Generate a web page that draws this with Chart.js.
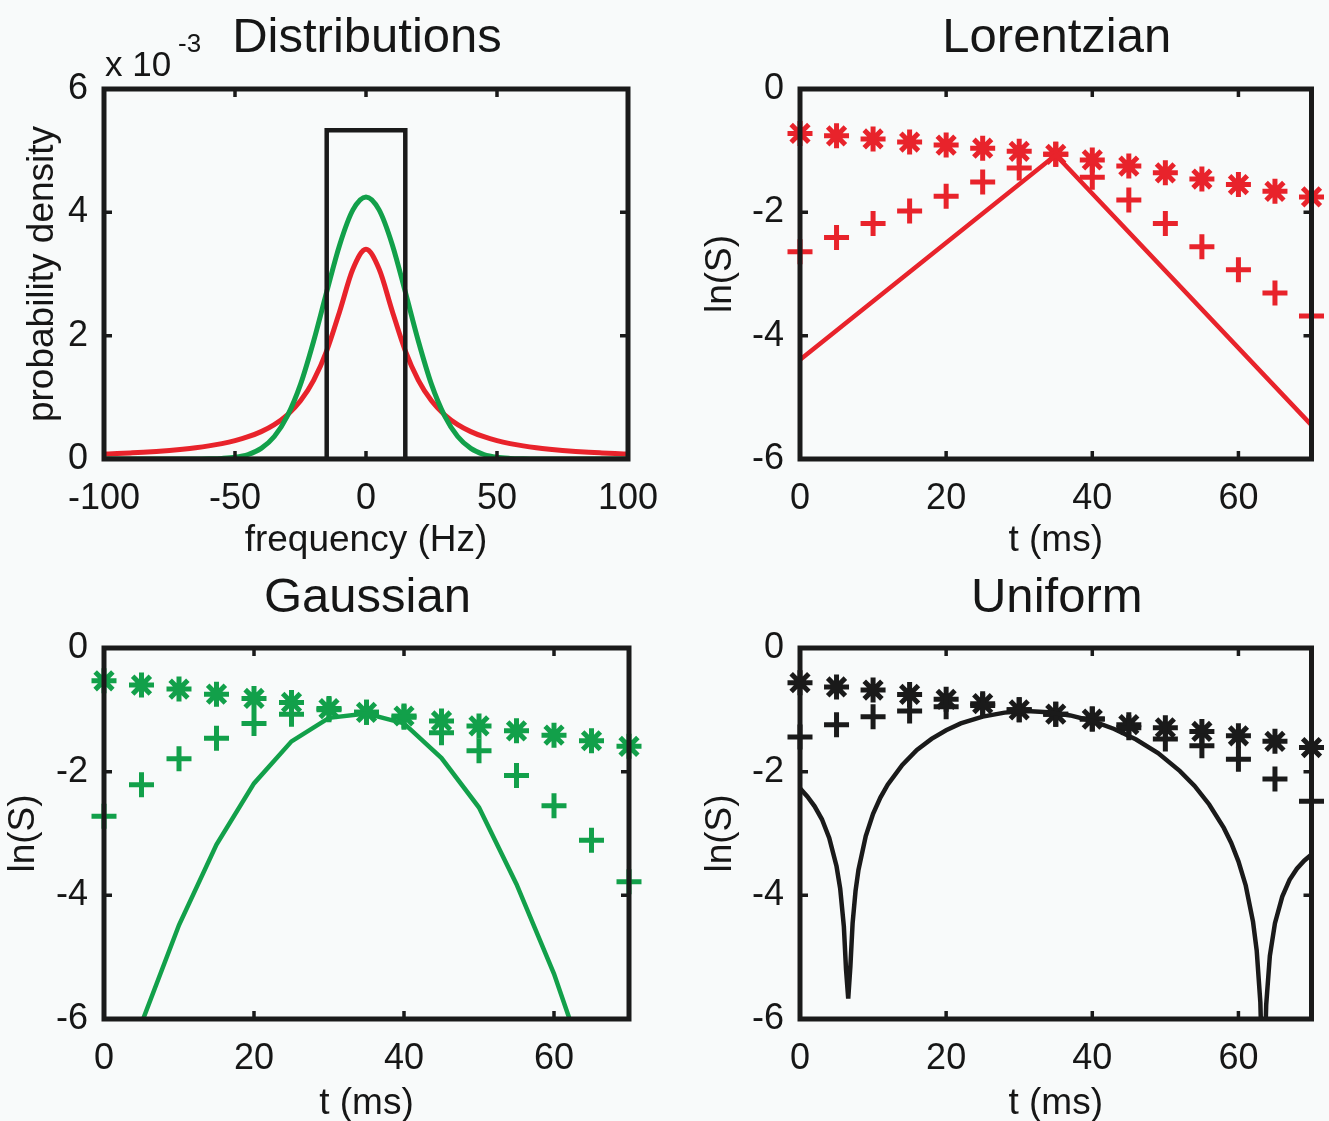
<!DOCTYPE html>
<html>
<head>
<meta charset="utf-8">
<title>Distributions and ln(S)</title>
<script src="https://cdn.jsdelivr.net/npm/chart.js@4.4.1/dist/chart.umd.min.js"></script>
<style>
  html, body { margin: 0; padding: 0; background: #f8fafa; }
  #wrap { position: relative; width: 1329px; height: 1121px; overflow: hidden; }
  #wrap canvas { position: absolute; left: 0; top: 0; }
</style>
</head>
<body>
<div id="wrap">
  <canvas id="c1" width="1329" height="1121"></canvas>
  <canvas id="c2" width="1329" height="1121"></canvas>
  <canvas id="c3" width="1329" height="1121"></canvas>
  <canvas id="c4" width="1329" height="1121"></canvas>
</div>
<script>
// --- Data ---

// Distributions panel, probability density in units of 1e-3
const freqHz = [-100, -95, -90, -85, -80, -75, -70, -65, -60, -55, -50, -45, -40, -35, -30, -25, -20, -15, -10, -5, 0,
                5, 10, 15, 20, 25, 30, 35, 40, 45, 50, 55, 60, 65, 70, 75, 80, 85, 90, 95, 100];
const lorentzDist = [0.080, 0.088, 0.098, 0.109, 0.123, 0.139, 0.159, 0.183, 0.213, 0.250, 0.298, 0.361, 0.444, 0.557, 0.716, 0.944, 1.276, 1.755, 2.40, 3.08, 3.40,
                     3.08, 2.40, 1.755, 1.276, 0.944, 0.716, 0.557, 0.444, 0.361, 0.298, 0.250, 0.213, 0.183, 0.159, 0.139, 0.123, 0.109, 0.098, 0.088, 0.080];
const gaussDist = [0, 0, 0, 0, 0, 0, 0, 0, 0.003, 0.010, 0.028, 0.073, 0.172, 0.365, 0.70, 1.21, 1.91, 2.71, 3.48, 4.04, 4.25,
                   4.04, 3.48, 2.71, 1.91, 1.21, 0.70, 0.365, 0.172, 0.073, 0.028, 0.010, 0.003, 0, 0, 0, 0, 0, 0, 0, 0];
const boxHz = [-100, -15, -15, 15, 15, 100];
const boxDist = [0, 0, 5.33, 5.33, 0, 0];

// Echo time samples (ms)
const tMs = [0, 5, 10, 15, 20, 25, 30, 35, 40, 45, 50, 55, 60, 65, 70];

// Lorentzian panel
const lorStar = [-0.72, -0.76, -0.81, -0.86, -0.91, -0.96, -1.01, -1.06, -1.15, -1.25, -1.36, -1.46, -1.55, -1.66, -1.75];
const lorPlus = [-2.64, -2.41, -2.18, -1.98, -1.74, -1.51, -1.28, -1.06, -1.43, -1.80, -2.18, -2.56, -2.93, -3.31, -3.68];
const lorLineMs = [0, 35, 70];
const lorLine = [-4.39, -1.07, -5.45];

// Gaussian panel
const gauStar = [-0.53, -0.60, -0.665, -0.746, -0.816, -0.88, -0.98, -1.04, -1.10, -1.18, -1.26, -1.34, -1.41, -1.50, -1.59];
const gauPlus = [-2.72, -2.21, -1.79, -1.46, -1.22, -1.07, -1.00, -1.04, -1.12, -1.37, -1.66, -2.06, -2.55, -3.11, -3.78];
const gauLine = [-7.98, -6.07, -4.48, -3.18, -2.19, -1.51, -1.13, -1.06, -1.22, -1.78, -2.58, -3.82, -5.27, -7.03, -9.09];

// Uniform panel
const uniStar = [-0.56, -0.63, -0.68, -0.75, -0.83, -0.90, -1.00, -1.07, -1.15, -1.24, -1.29, -1.35, -1.42, -1.51, -1.61];
const uniPlus = [-1.44, -1.24, -1.11, -1.02, -0.95, -0.93, -1.00, -1.07, -1.15, -1.29, -1.47, -1.58, -1.80, -2.12, -2.48];
const uniCurveMs = [0, 1, 2, 3, 4, 5, 5.5, 6, 6.3, 6.6, 6.9, 7.2, 7.6, 8, 9, 10, 11, 12, 14, 16, 18, 20, 22, 25, 28, 31, 34, 37,
                    40, 43, 46, 49, 52, 54, 56, 58, 59, 60, 61, 62, 62.5, 63, 63.4, 63.8, 64.3, 65, 66, 67, 68, 69, 70];
const uniCurve = [-2.27, -2.40, -2.56, -2.77, -3.07, -3.53, -3.89, -4.50, -5.20, -5.67, -5.14, -4.45, -3.93, -3.59, -3.04, -2.68,
                  -2.42, -2.21, -1.89, -1.65, -1.47, -1.33, -1.22, -1.11, -1.045, -1.02, -1.04, -1.09,
                  -1.18, -1.31, -1.48, -1.70, -1.99, -2.23, -2.53, -2.91, -3.15, -3.45, -3.84, -4.43, -4.89, -5.73, -7.5,
                  -5.77, -4.98, -4.45, -4.02, -3.75, -3.57, -3.44, -3.34];

// --- Styles ---
const W = 1329, H = 1121;
const FONT = '"Liberation Sans", Arial, Helvetica, sans-serif';
const INK = '#161616';
const RED = '#e8232b';
const GREEN = '#12a04a';
const BLACK = '#1a1a1a';
const TICK_SIZE = 36;
const LABEL_SIZE = 37;

Chart.defaults.font.family = FONT;
Chart.defaults.color = INK;

const pts = (xs, ys) => xs.map((x, i) => ({ x: x, y: ys[i] }));

function lineSet(xs, ys, color, extra) {
    return Object.assign({
        data: pts(xs, ys), showLine: true, borderColor: color, borderWidth: 4.5,
        pointRadius: 0, pointHoverRadius: 0, fill: false, clip: 2
    }, extra || {});
}

function markSet(xs, ys, color, style, r) {
    return {
        data: pts(xs, ys), showLine: false, pointStyle: style, pointRadius: r, pointHoverRadius: r,
        pointBorderWidth: 5, pointBorderColor: color, pointBackgroundColor: color, clip: false
    };
}

const panels = [
    {
        id: 'c1', L: 104, T: 89, R: 628, B: 459, yLabX: 43, xLabY: 541, titleY: 52,
        title: 'Distributions', xTitle: 'frequency (Hz)', yTitle: 'probability density',
        x: [-100, 100, 50], y: [0, 6, 2], exponent: true,
        datasets: [
            lineSet(boxHz, boxDist, BLACK, { borderWidth: 4.5 }),
            lineSet(freqHz, gaussDist, GREEN, { borderWidth: 5, cubicInterpolationMode: 'monotone' }),
            lineSet(freqHz, lorentzDist, RED, { borderWidth: 5, cubicInterpolationMode: 'monotone' })
        ]
    },
    {
        id: 'c2', L: 800, T: 89, R: 1322, B: 459, yLabX: 721, xLabY: 541, titleY: 52,
        title: 'Lorentzian', xTitle: 't (ms)', yTitle: 'ln(S)',
        x: [0, 70, 20], y: [-6, 0, 2],
        datasets: [
            lineSet(lorLineMs, lorLine, RED),
            markSet(tMs, lorPlus, RED, 'cross', 12.5),
            markSet(tMs, lorStar, RED, 'star', 12.5)
        ]
    },
    {
        id: 'c3', L: 104, T: 648, R: 629, B: 1019, yLabX: 24, xLabY: 1104, titleY: 612,
        title: 'Gaussian', xTitle: 't (ms)', yTitle: 'ln(S)',
        x: [0, 70, 20], y: [-6, 0, 2],
        datasets: [
            lineSet(tMs, gauLine, GREEN),
            markSet(tMs, gauPlus, GREEN, 'cross', 12.5),
            markSet(tMs, gauStar, GREEN, 'star', 12.5)
        ]
    },
    {
        id: 'c4', L: 800, T: 648, R: 1321, B: 1019, yLabX: 721, xLabY: 1104, titleY: 612,
        title: 'Uniform', xTitle: 't (ms)', yTitle: 'ln(S)',
        x: [0, 70, 20], y: [-6, 0, 2],
        datasets: [
            lineSet(uniCurveMs, uniCurve, BLACK),
            markSet(tMs, uniPlus, BLACK, 'cross', 12.5),
            markSet(tMs, uniStar, BLACK, 'star', 12.5)
        ]
    }
];

// Box frame with inward ticks, drawn over the data like the original axes
function makeDecor(p) {
    return {
        id: 'decor',
        afterDatasetsDraw(chart) {
            const { ctx, chartArea: a, scales } = chart;
            ctx.save();
            ctx.strokeStyle = BLACK;
            ctx.lineWidth = 3.5;
            ctx.beginPath();
            scales.x.ticks.forEach(t => {
                const px = scales.x.getPixelForValue(t.value);
                ctx.moveTo(px, a.top); ctx.lineTo(px, a.top + 8);
                ctx.moveTo(px, a.bottom); ctx.lineTo(px, a.bottom - 8);
            });
            scales.y.ticks.forEach(t => {
                const py = scales.y.getPixelForValue(t.value);
                ctx.moveTo(a.left, py); ctx.lineTo(a.left + 8, py);
                ctx.moveTo(a.right, py); ctx.lineTo(a.right - 8, py);
            });
            ctx.stroke();
            ctx.lineWidth = 5;
            ctx.strokeRect(a.left, a.top, a.right - a.left, a.bottom - a.top);
            ctx.restore();
        },
        afterDraw(chart) {
            const { ctx, chartArea: a } = chart;
            ctx.save();
            ctx.fillStyle = INK;
            ctx.textBaseline = 'alphabetic';
            ctx.textAlign = 'center';
            ctx.font = '49px ' + FONT;
            ctx.fillText(p.title, (a.left + a.right) / 2 + 1, p.titleY);
            if (p.exponent) {
                ctx.textAlign = 'left';
                ctx.font = '35px ' + FONT;
                ctx.fillText('x 10', 105, 76);
                ctx.font = '26px ' + FONT;
                ctx.fillText('-3', 178, 52);
            }
            ctx.restore();
        }
    };
}

panels.forEach(p => {
    const half = LABEL_SIZE * 0.6; // half line height of the axis titles
    new Chart(document.getElementById(p.id), {
        type: 'scatter',
        data: { datasets: p.datasets },
        options: {
            responsive: false,
            animation: false,
            events: [],
            layout: {
                padding: { left: p.yLabX - half, top: p.T, right: W - p.R, bottom: H - (p.xLabY + half) }
            },
            plugins: { legend: { display: false }, tooltip: { enabled: false } },
            scales: {
                x: {
                    type: 'linear', min: p.x[0], max: p.x[1],
                    afterFit: s => { s.height = p.xLabY + half - p.B; },
                    grid: { display: false }, border: { display: false },
                    ticks: { stepSize: p.x[2], includeBounds: false, padding: 10, maxRotation: 0, autoSkip: false,
                             color: INK, font: { size: TICK_SIZE } },
                    title: { display: true, text: p.xTitle, color: INK, padding: 0, font: { size: LABEL_SIZE } }
                },
                y: {
                    type: 'linear', min: p.y[0], max: p.y[1],
                    afterFit: s => { s.width = p.L - (p.yLabX - half); },
                    grid: { display: false }, border: { display: false },
                    ticks: { stepSize: p.y[2], padding: 8, color: INK, font: { size: TICK_SIZE } },
                    title: { display: true, text: p.yTitle, color: INK, padding: 0, font: { size: LABEL_SIZE } }
                }
            }
        },
        plugins: [makeDecor(p)]
    });
});
</script>
</body>
</html>
